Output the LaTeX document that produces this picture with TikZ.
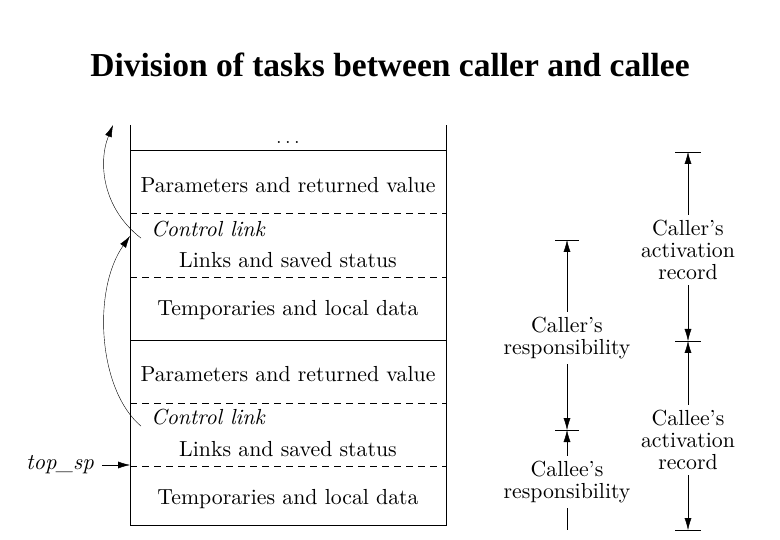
\documentclass[tikz,border=0pt]{standalone}
\usepackage{fontspec}
\setmainfont{lmroman10-regular.otf}[ItalicFont=lmroman10-italic.otf,BoldFont=lmroman10-bold.otf]
\newfontfamily\titlefont{Liberation Serif}
\usetikzlibrary{arrows.meta}
\tikzset{
  cell/.style={font=\fontsize{21.8}{22}\selectfont, inner sep=0pt},
  linktext/.style={font=\fontsize{21.8}{22}\selectfont\itshape, inner sep=0pt, anchor=west},
  span/.style={font=\fontsize{21.8}{22}\selectfont, align=center, inner sep=5pt},
  tip/.style={-{Latex[length=12pt,width=7pt]}},
  sep/.style={dash pattern=on 7pt off 5pt},
}

\begin{document}
\begin{tikzpicture}[x=1pt,y=-1pt]
	\useasboundingbox (0,0) rectangle (780,540);
	
	\node[font=\titlefont\bfseries\fontsize{33.5}{36}\selectfont] (title) at (390,65) {Division of tasks between caller and callee};
	
	\draw (130,125) -- (130,525) -- (446,525) -- (446,125);
	\draw (130,150) -- (446,150);
	\draw (130,340) -- (446,340);
	\draw[sep] (130,213) -- (446,213);
	\draw[sep] (130,277) -- (446,277);
	\draw[sep] (130,403) -- (446,403);
	\draw[sep] (130,466) -- (446,466);
	
	\node[cell, anchor=base] (dots) at (288,144) {$\ldots$};
	\node[cell] (par1) at (288,185) {Parameters and returned value};
	\node[linktext] (cl1) at (151,229) {Control link};
	\node[cell] (lnk1) at (288,260) {Links and saved status};
	\node[cell] (tmp1) at (288,310) {Temporaries and local data};
	
	\node[cell] (par2) at (288,374) {Parameters and returned value};
	\node[linktext] (cl2) at (151,417) {Control link};
	\node[cell] (lnk2) at (288,449) {Links and saved status};
	\node[cell] (tmp2) at (288,499) {Temporaries and local data};
	
	\coordinate (up) at (113,125);
	\coordinate (in1) at (130,236);
	\draw[tip] ([xshift=-10pt,yshift=-1pt]cl1.south west) .. controls (102,208) and (98,162) .. (up);
	\draw[tip] ([xshift=-10pt,yshift=-1pt]cl2.south west) .. controls (98,390) and (92,290) .. (in1);
	
	\node[cell, font=\fontsize{22.5}{22}\selectfont\itshape] (topsp) at (60,465) {top\_sp};
	\coordinate (sp) at (130,465);
	\draw[tip] ([xshift=8pt]topsp.east) -- (sp);
	
	\coordinate (t1) at (567,240);
	\coordinate (t2) at (567,430);
	\coordinate (e1) at (567,530);
	\draw ([xshift=-12pt]t1) -- ([xshift=12pt]t1);
	\draw ([xshift=-12pt]t2) -- ([xshift=12pt]t2);
	\node[span] (callerresp) at (567,338) {Caller's\\responsibility};
	\node[span] (calleeresp) at (567,482) {Callee's\\responsibility};
	\draw[tip] (callerresp.north) -- (t1);
	\draw[tip] (callerresp.south) -- (t2);
	\draw[tip] (calleeresp.north) -- (t2);
	\draw (calleeresp.south) -- (e1);
	
	\coordinate (t3) at (688,152);
	\coordinate (t4) at (688,341);
	\coordinate (t5) at (688,530);
	\draw ([xshift=-13pt]t3) -- ([xshift=13pt]t3);
	\draw ([xshift=-13pt]t4) -- ([xshift=13pt]t4);
	\draw ([xshift=-13pt]t5) -- ([xshift=13pt]t5);
	\node[span] (callerrec) at (688,250) {Caller's\\activation\\record};
	\node[span] (calleerec) at (688,440) {Callee's\\activation\\record};
	\draw[tip] (callerrec.north) -- (t3);
	\draw[tip] (callerrec.south) -- (t4);
	\draw[tip] (calleerec.north) -- (t4);
	\draw[tip] (calleerec.south) -- (t5);
\end{tikzpicture}
\end{document}
